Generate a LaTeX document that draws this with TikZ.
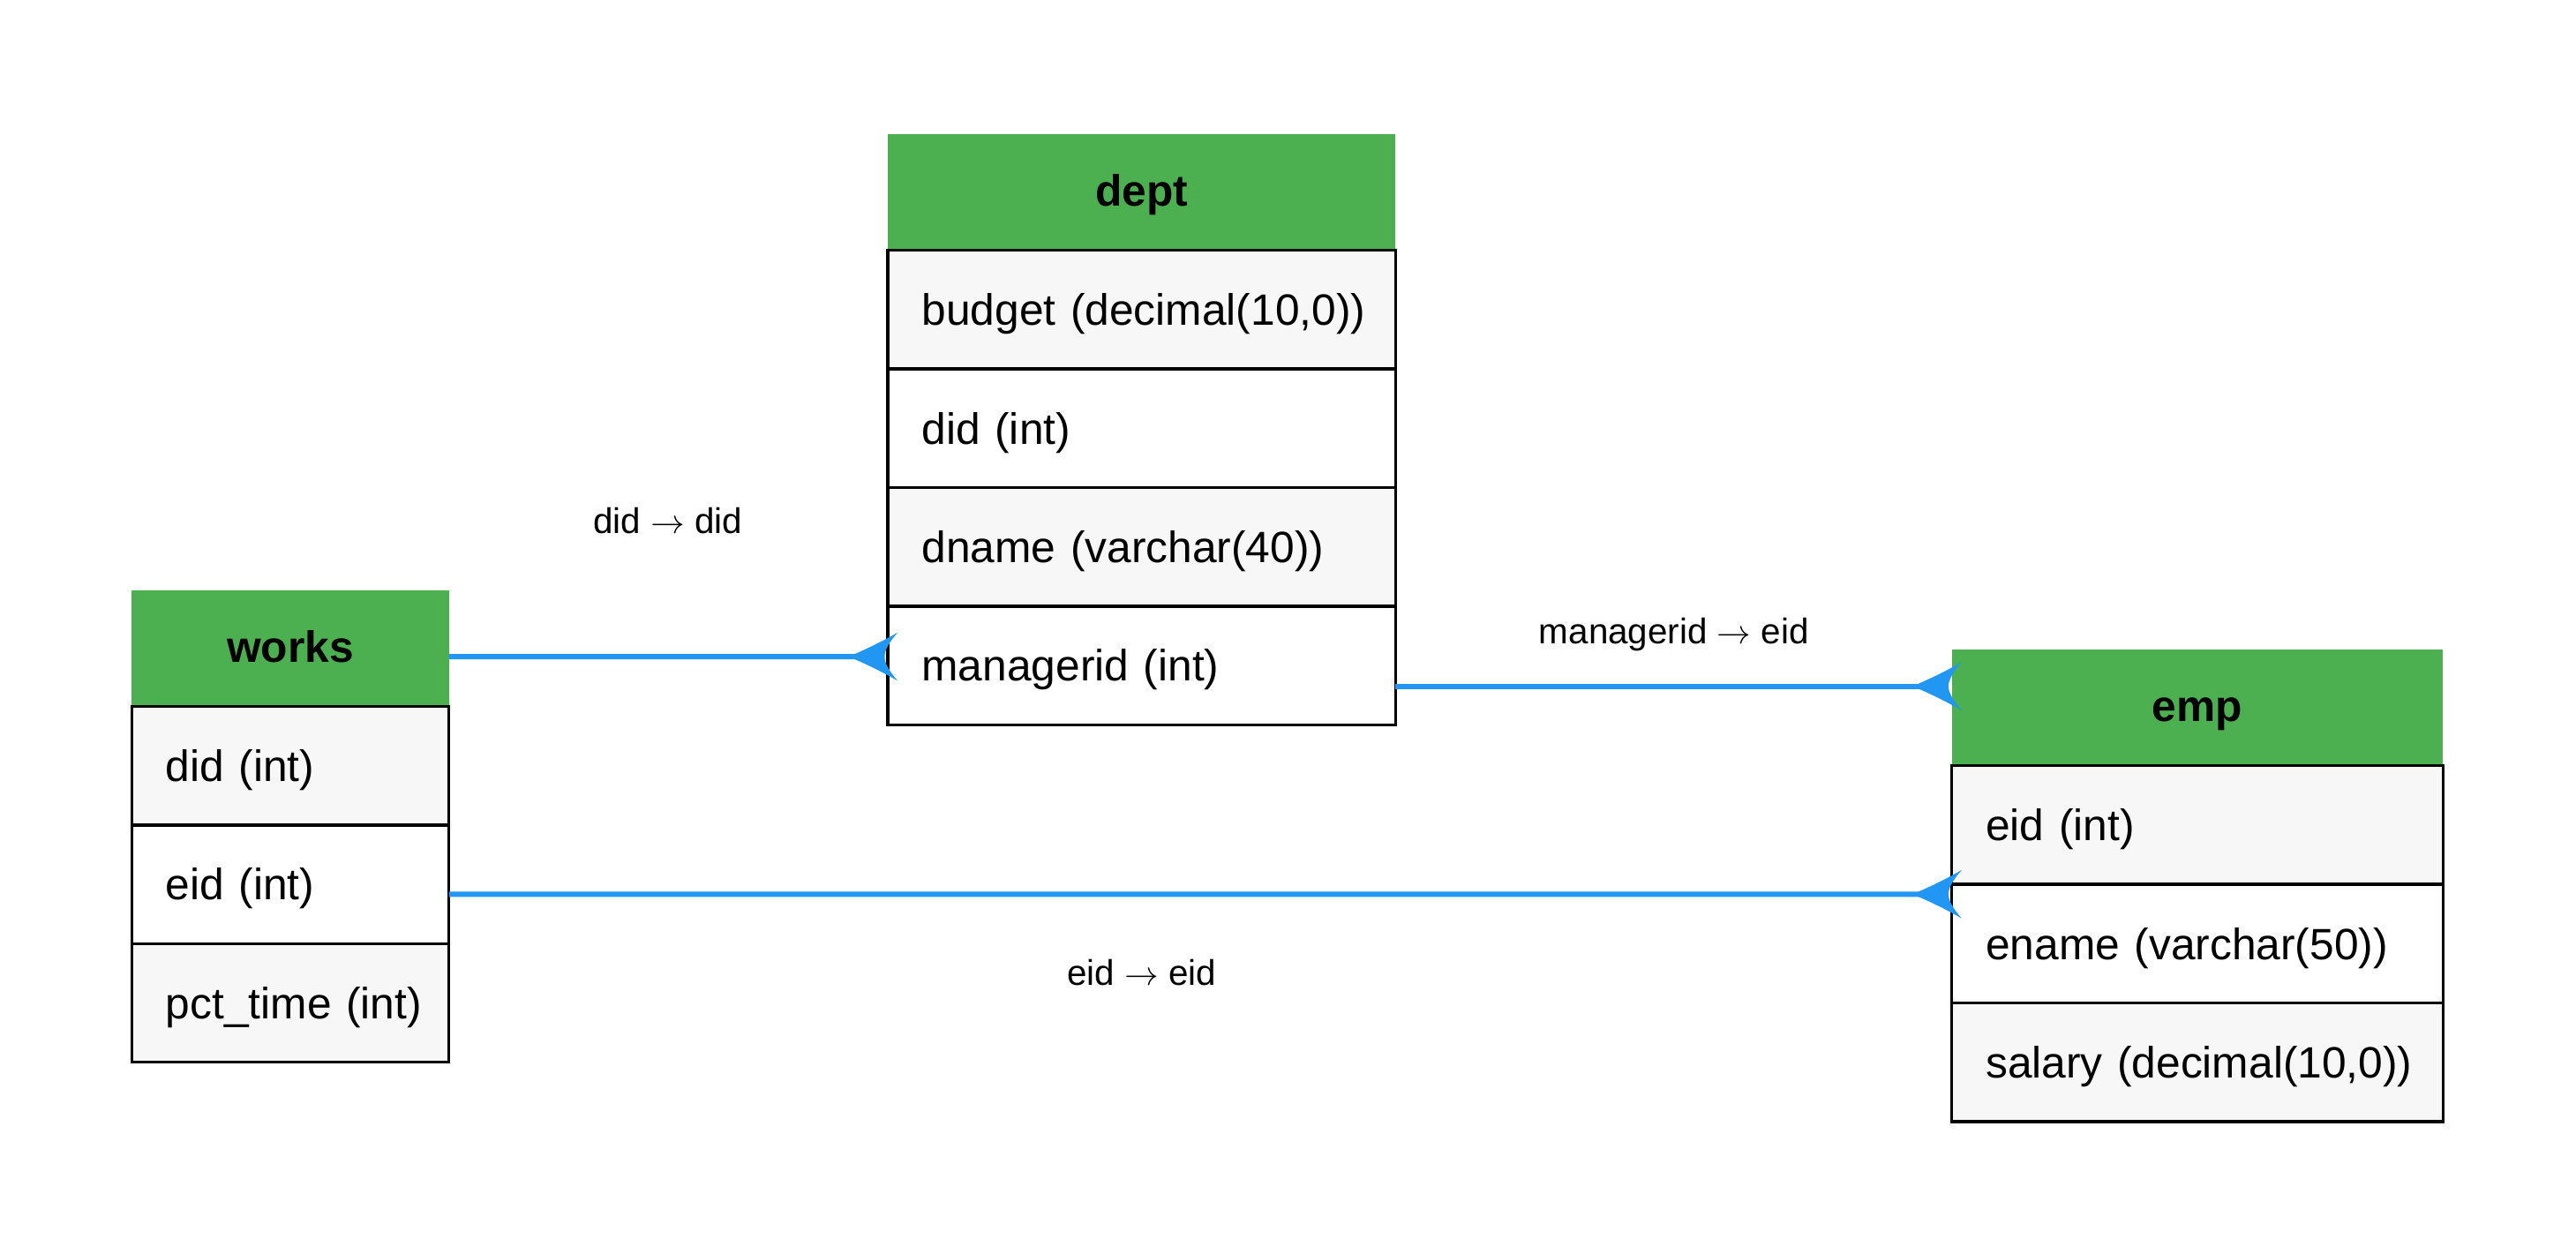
\documentclass[tikz,border=0pt]{standalone}
\usepackage{fontspec}
\setmainfont{Liberation Sans}
\usetikzlibrary{calc}
\definecolor{hdrgreen}{HTML}{4CAF50}
\definecolor{connblue}{HTML}{2196F3}
\definecolor{rowgray}{HTML}{F7F7F7}
\newcommand\crowat[1]{\fill[connblue,shift={(#1)}] (-24,0) .. controls (-14,-4) and (-2,-10) .. (6,-14.7) .. controls (1,-9) and (-2,-4) .. (-2,0) .. controls (-2,4) and (1,9) .. (6,14.7) .. controls (-2,10) and (-14,4) .. (-24,0) -- cycle;}
\begin{document}
\begin{tikzpicture}[x=1pt,y=-1pt,
  hdr/.style={fill=hdrgreen, minimum height=70.5pt, inner sep=0pt, outer sep=0pt,
    font=\fontsize{26.7}{30}\selectfont\bfseries, text height=17.5pt, text depth=0.5pt},
  rowbox/.style={draw=black, line width=1.8pt, minimum height=72.2pt, inner xsep=20.7pt,
    inner ysep=0pt, outer sep=0pt, align=left, font=\fontsize{26.7}{30}\selectfont,
    text height=19.5pt, text depth=0.5pt},
  oddrow/.style={fill=rowgray},
  evenrow/.style={fill=white},
  conn/.style={draw=connblue, line width=3.2pt},
  lab/.style={font=\fontsize{21.7}{26}\selectfont, anchor=base, inner sep=0pt}]
\useasboundingbox (0,0) rectangle (1568,763.3);

% works
\node[hdr, minimum width=193.1pt] (works) at (176.75,394.75) {works};
\node[rowbox, oddrow, text width=151.7pt] (works-did) at (176.75,466.1) {\mbox{did (int)}};
\node[rowbox, evenrow, text width=151.7pt] (works-eid) at (176.75,538.3) {\mbox{eid (int)}};
\node[rowbox, oddrow, text width=151.7pt] (works-pct) at (176.75,610.5) {\mbox{pct\_time (int)}};

% dept
\node[hdr, minimum width=309pt] (dept) at (694.9,117.15) {dept};
\node[rowbox, oddrow, text width=267.6pt] (dept-budget) at (694.9,188.5) {\mbox{budget (decimal(10,0))}};
\node[rowbox, evenrow, text width=267.6pt] (dept-did) at (694.9,260.7) {\mbox{did (int)}};
\node[rowbox, oddrow, text width=267.6pt] (dept-dname) at (694.9,332.9) {\mbox{dname (varchar(40))}};
\node[rowbox, evenrow, text width=267.6pt] (dept-managerid) at (694.9,405.1) {\mbox{managerid (int)}};

% emp
\node[hdr, minimum width=299.1pt] (emp) at (1337.55,430.85) {emp};
\node[rowbox, oddrow, text width=257.7pt] (emp-eid) at (1337.55,502.2) {\mbox{eid (int)}};
\node[rowbox, evenrow, text width=257.7pt] (emp-ename) at (1337.55,574.4) {\mbox{ename (varchar(50))}};
\node[rowbox, oddrow, text width=257.7pt] (emp-salary) at (1337.55,646.6) {\mbox{salary (decimal(10,0))}};

% connectors
\coordinate (e1) at ([yshift=5.4pt]dept-managerid.west);
\draw[conn] ([yshift=-4.95pt]works.east) -- ([xshift=-2pt]e1);
\crowat{e1}

\coordinate (e2) at ([yshift=13.15pt]emp.west);
\draw[conn] ([yshift=-12.6pt]dept-managerid.east) -- ([xshift=-2pt]e2);
\crowat{e2}

\coordinate (e3) at ([yshift=-6pt]emp-eid.south west);
\draw[conn] ([yshift=-6pt]works-eid.east) -- ([xshift=-2pt]e3);
\crowat{e3}

% labels
\node[lab] (l1) at (406.5,324.5) {did $\rightarrow$ did};
\node[lab] (l2) at (1018.9,391.6) {managerid $\rightarrow$ eid};
\node[lab] (l3) at (695,599.5) {eid $\rightarrow$ eid};
\end{tikzpicture}
\end{document}
